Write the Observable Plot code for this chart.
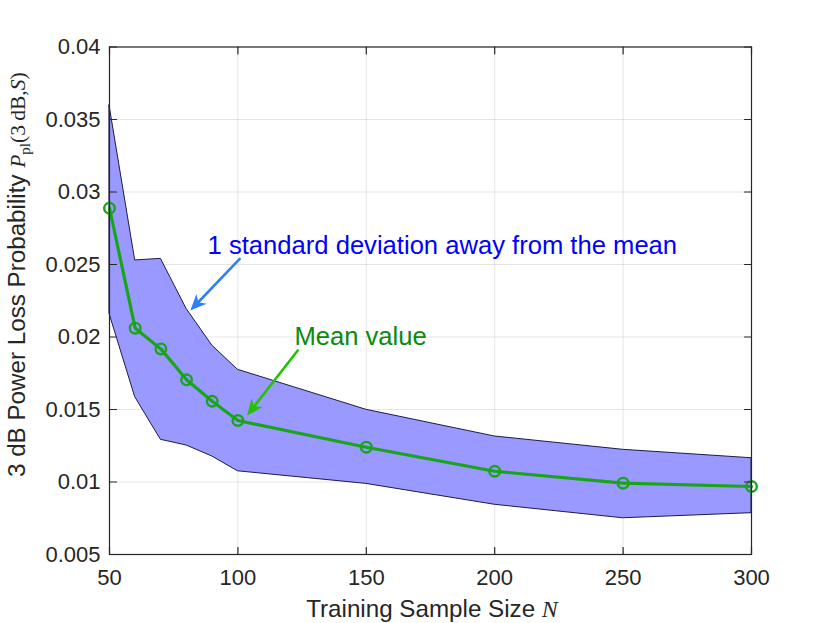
<!DOCTYPE html>
<html><head><meta charset="utf-8">
<script src="https://cdn.jsdelivr.net/npm/d3@7"></script>
<script src="https://cdn.jsdelivr.net/npm/@observablehq/plot@0.6"></script>
<style>body{margin:0;background:#fff;} #chart svg{display:block;}</style>
</head><body><div id="chart"></div>
<script>
const sampleSize = [50, 60, 70, 80, 90, 100, 150, 200, 250, 300];
const meanValue  = [0.02888, 0.02061, 0.01918, 0.01705, 0.01557, 0.01424, 0.01240, 0.01074, 0.00992, 0.00969];
const upperValue = [0.03597, 0.02528, 0.02539, 0.02194, 0.01941, 0.01774, 0.01498, 0.01314, 0.01222, 0.01164];
const lowerValue = [0.02160, 0.01585, 0.01291, 0.01252, 0.01176, 0.01074, 0.00987, 0.00843, 0.00750, 0.00785];
const xTicks = [50, 100, 150, 200, 250, 300];
const yTicks = [0.005, 0.01, 0.015, 0.02, 0.025, 0.03, 0.035, 0.04];
const yTickLabels = ["0.005", "0.01", "0.015", "0.02", "0.025", "0.03", "0.035", "0.04"];
const annotationTexts = ["1 standard deviation away from the mean", "Mean value"];
const annotationX = [88.2, 122.0];
const annotationY = [0.02632, 0.01998];
const arrowFromX = [100.7, 123.3];
const arrowFromY = [0.02539, 0.01907];
const arrowToX = [81.5, 103.6];
const arrowToY = [0.02183, 0.01459];

const textColors = ["#0000ff", "#0b8a0b"];
const arrowColors = ["#2f80f0", "#22c400"];

const rows = sampleSize.map((n, i) => ({n, mean: meanValue[i], hi: upperValue[i], lo: lowerValue[i]}));
const notes = annotationTexts.map((t, i) => ({t, x: annotationX[i], y: annotationY[i], c: textColors[i]}));
const arrows = arrowFromX.map((x1, i) => ({x1, y1: arrowFromY[i], x2: arrowToX[i], y2: arrowToY[i], c: arrowColors[i]}));

const axisColor = "#262626";
const tickShape = {draw(c, l) { c.moveTo(0, 0); c.lineTo(0, -l); }};
const headSymbol = {draw(c) { c.moveTo(0, 0); c.lineTo(-16, -7); c.lineTo(-11.5, 0); c.lineTo(-16, 7); c.closePath(); }};

function opts(angles) {
  return {
    width: 830, height: 623,
    marginLeft: 109, marginRight: 79, marginTop: 46.5, marginBottom: 69,
    style: {fontFamily: "'Liberation Sans', Arial, Helvetica, sans-serif", background: "#fff", color: axisColor, overflow: "visible"},
    x: {domain: [50, 300]},
    y: {domain: [0.005, 0.04]},
    marks: [
      Plot.gridX(xTicks, {stroke: "#000", strokeOpacity: 0.1}),
      Plot.gridY(yTicks, {stroke: "#000", strokeOpacity: 0.1}),
      Plot.areaY(rows, {x: "n", y1: "lo", y2: "hi", fill: "#9999ff", stroke: "#1c1c48", strokeWidth: 1, strokeLinejoin: "round"}),
      Plot.line(rows, {x: "n", y: "mean", stroke: "#1aa41a", strokeWidth: 3.2}),
      Plot.dot(rows, {x: "n", y: "mean", r: 5.3, stroke: "#1aa41a", strokeWidth: 2.4, fill: "none"}),
      Plot.frame({stroke: axisColor, strokeWidth: 1.2}),
      Plot.vector(xTicks, {x: d => d, y: 0.005, length: 7, rotate: 0, anchor: "start", shape: tickShape, stroke: axisColor, fill: "none", strokeWidth: 1.2}),
      Plot.vector(xTicks, {x: d => d, y: 0.04, length: 7, rotate: 180, anchor: "start", shape: tickShape, stroke: axisColor, fill: "none", strokeWidth: 1.2}),
      Plot.vector(yTicks, {x: 50, y: d => d, length: 7, rotate: 90, anchor: "start", shape: tickShape, stroke: axisColor, fill: "none", strokeWidth: 1.2}),
      Plot.vector(yTicks, {x: 300, y: d => d, length: 7, rotate: -90, anchor: "start", shape: tickShape, stroke: axisColor, fill: "none", strokeWidth: 1.2}),
      Plot.axisX(xTicks, {tickSize: 0, tickPadding: 15, fontSize: 22, label: null, fill: axisColor}),
      Plot.axisY(yTicks, {tickSize: 0, tickPadding: 9, fontSize: 22, label: null, fill: axisColor,
        tickFormat: d => yTickLabels[yTicks.indexOf(d)]}),
      Plot.arrow(arrows, {x1: "x1", y1: "y1", x2: "x2", y2: "y2", stroke: "c", strokeWidth: 2.6, headLength: 0, insetEnd: 10}),
      Plot.dot(arrows, {x: "x2", y: "y2", symbol: headSymbol, r: 8, rotate: (d, i) => angles[i] ?? 0, fill: "c", stroke: "none"}),
      Plot.text(notes, {x: "x", y: "y", text: "t", fill: "c", textAnchor: "start", lineAnchor: "middle", fontSize: 25.6})
    ]
  };
}

const probe = Plot.plot(opts([]));
const sx = probe.scale("x"), sy = probe.scale("y");
const angles = arrows.map(a => Math.atan2(sy.apply(a.y2) - sy.apply(a.y1), sx.apply(a.x2) - sx.apply(a.x1)) * 180 / Math.PI);
const svg = Plot.plot(opts(angles));
document.getElementById("chart").appendChild(svg);

const sel = d3.select(svg);
const serif = "'Liberation Serif', 'Times New Roman', serif";
// x label
const xl = sel.append("text").attr("x", 432).attr("y", 617).attr("text-anchor", "middle")
  .attr("fill", axisColor).style("font-family", "'Liberation Sans', Arial, sans-serif").style("font-size", "24.2px");
xl.append("tspan").text("Training Sample Size ");
xl.append("tspan").style("font-family", serif).style("font-style", "italic").style("font-size", "24px").text("N");
// y label
const yl = sel.append("text").attr("transform", "translate(25,477) rotate(-90)").attr("text-anchor", "start")
  .attr("fill", axisColor).style("font-family", "'Liberation Sans', Arial, sans-serif").style("font-size", "24.2px");
yl.append("tspan").text("3 dB Power Loss Probability ");
yl.append("tspan").style("font-family", serif).style("font-style", "italic").style("font-size", "21.5px").text("P");
yl.append("tspan").attr("dy", 5).style("font-family", serif).style("font-size", "15px").text("pl");
yl.append("tspan").attr("dy", -5).style("font-family", serif).style("font-size", "21.5px").text("(3\u2009dB,");
yl.append("tspan").style("font-family", serif).style("font-style", "italic").style("font-size", "21.5px").text("S");
yl.append("tspan").style("font-family", serif).style("font-size", "21.5px").text(")");
</script>
</body></html>
